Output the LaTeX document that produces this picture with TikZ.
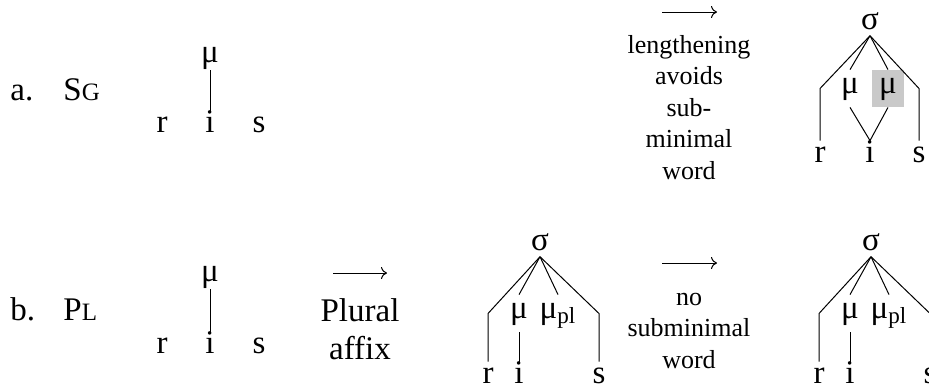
\documentclass[tikz,border=0pt]{standalone}
\usepackage{fontspec}
\setmainfont{Liberation Serif}
\usepackage{tikz}
\usetikzlibrary{arrows.meta,positioning}
\definecolor{Shade}{HTML}{C9C9C9}
\newcommand\smallcap[1]{{\fontsize{12.5}{12.5}\selectfont #1}}
\newcommand\rulefont{\fontsize{13}{15.75}\selectfont}
\tikzset{
  seg/.style={anchor=base,inner sep=1pt,text height=9.5pt},
  mora/.style={anchor=base,inner xsep=3.5pt,inner ysep=3.5pt,text height=8pt,text depth=3.5pt},
  syl/.style={anchor=base,inner sep=3pt},
  assoc/.style={line width=0.5pt},
  change/.style={-{To[length=3pt,width=6pt]},line width=0.5pt},
  rulelabel/.style={anchor=south,align=center,inner sep=0pt,font=\rulefont},
  rowlabel/.style={anchor=base west,inner sep=0pt},
}

\begin{document}
\begin{tikzpicture}[x=0.5pt,y=-0.5pt,font=\fontsize{16.5}{19}\selectfont]
\useasboundingbox (0,0) rectangle (929,388);
% a. singular
\node[rowlabel] (la) at (10,100) {a.};
\node[rowlabel] (sg) at (63,100) {S\smallcap{G}};
\foreach \n/\x in {r/162,i/210,s/259}
  \node[seg] (a\n) at (\x,132) {\n};
\node[anchor=south,inner sep=0pt] (amu) at (210,70) {μ};
\draw[assoc] (amu.south) -- (ai.north);

\coordinate (q0) at (662,12);
\coordinate (q1) at (717,12);
\draw[change] (q0) -- (q1);
\node[rulelabel] (lengthen) at (689,180) {lengthening\\avoids\\sub-\\minimal\\word};

\node[syl] (csig) at (870,29) {σ};
\foreach \n/\x in {r/820,i/870,s/919}
  \node[seg] (c\n) at (\x,162) {\n};
\node[mora] (cmu) at (850,93) {μ};
\node[mora,fill=Shade] (cmux) at (888,93) {μ};
\draw[assoc] (csig.south) -- (cr |- cmu) -- (cr.north);
\draw[assoc] (csig.south) -- (cmu.north);
\draw[assoc] (csig.south) -- (cmux.north);
\draw[assoc] (csig.south) -- (cs |- cmu) -- (cs.north);
\draw[assoc] (cmu.south) -- (ci.north) -- (cmux.south);

% b. plural
\node[rowlabel] (lb) at (10,320) {b.};
\node[rowlabel] (pl) at (63,320) {P\smallcap{L}};
\foreach \n/\x in {r/162,i/210,s/259}
  \node[seg] (b\n) at (\x,353) {\n};
\node[anchor=south,inner sep=0pt] (bmu) at (210,289) {μ};
\draw[assoc] (bmu.south) -- (bi.north);

\coordinate (p0) at (333,273);
\coordinate (p1) at (387,273);
\draw[change] (p0) -- (p1);
\node[anchor=south,align=center,inner sep=0pt] (affix) at (360,360) {Plural\\affix};

\node[syl] (dsig) at (540,250) {σ};
\foreach \n/\x in {r/488,i/519,s/599}
  \node[seg] (d\n) at (\x,383) {\n};
\node[mora] (dmu) at (519,318) {μ};
\node[mora] (dmupl) at (558,318) {μ\textsubscript{pl}};
\draw[assoc] (dsig.south) -- (dr |- dmu) -- (dr.north);
\draw[assoc] (dsig.south) -- (dmu.north);
\draw[assoc] (dsig.south) -- (dmupl.north);
\draw[assoc] (dsig.south) -- (ds |- dmu) -- (ds.north);
\draw[assoc] (dmu.south) -- (di.north);

\coordinate (m0) at (662,263);
\coordinate (m1) at (717,263);
\draw[change] (m0) -- (m1);
\node[rulelabel] (nosub) at (689,369) {no\\subminimal\\word};

\node[syl] (esig) at (871,250) {σ};
\foreach \n/\x in {r/819,i/850,s/930}
  \node[seg] (e\n) at (\x,383) {\n};
\node[mora] (emu) at (850,318) {μ};
\node[mora] (emupl) at (889,318) {μ\textsubscript{pl}};
\draw[assoc] (esig.south) -- (er |- emu) -- (er.north);
\draw[assoc] (esig.south) -- (emu.north);
\draw[assoc] (esig.south) -- (emupl.north);
\draw[assoc] (esig.south) -- (es |- emu) -- (es.north);
\draw[assoc] (emu.south) -- (ei.north);
\end{tikzpicture}
\end{document}
